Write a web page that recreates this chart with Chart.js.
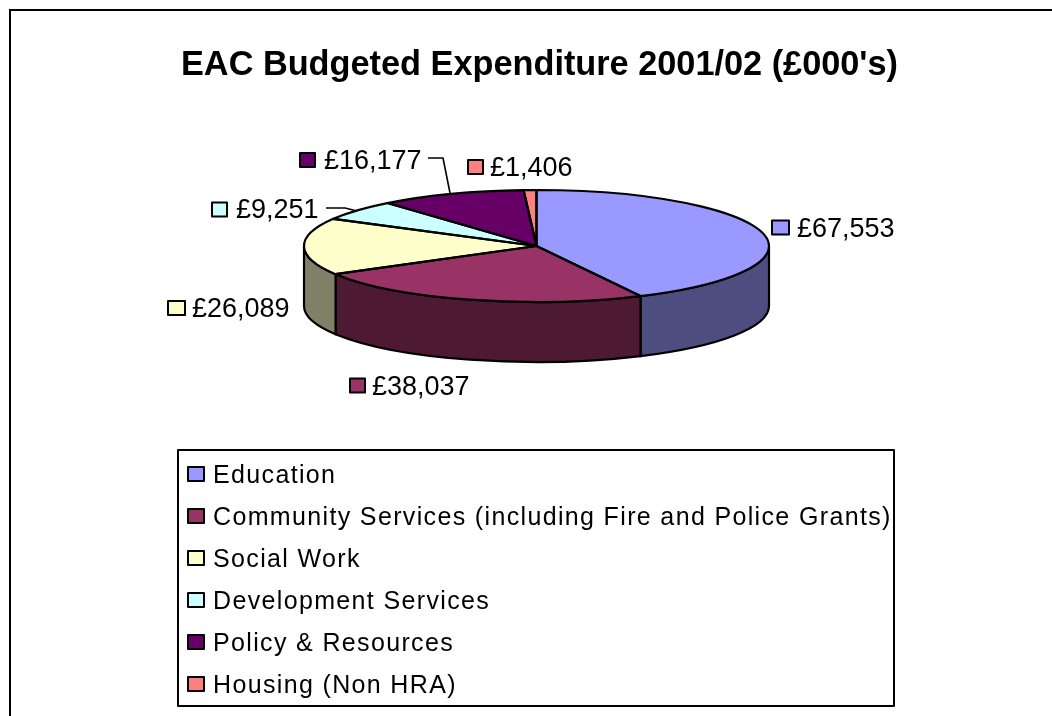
<!DOCTYPE html>
<html>
<head>
<meta charset="utf-8">
<title>EAC Budgeted Expenditure</title>
<script src="https://cdn.jsdelivr.net/npm/chart.js@4"></script>
<style>
  html, body { margin: 0; padding: 0; background: #fff; overflow: hidden; }
  canvas { display: block; }
</style>
</head>
<body>
<canvas id="budgetChart" width="1052" height="716"></canvas>
<script>
const categories = ['Education', 'Community Services (including Fire and Police Grants)', 'Social Work', 'Development Services', 'Policy & Resources', 'Housing (Non HRA)'];
const values = [67553, 38037, 26089, 9251, 16177, 1406];
const topColours = ['#9999FF', '#993366', '#FFFFCC', '#CCFFFF', '#660066', '#FF8080'];
const wallColours = ['#4D4D80', '#4D1933', '#808066', '#668080', '#330033', '#804040'];

// where the pie sits on the page (squashed circle + depth)
const cx = 536.5, cy = 246, rx = 232.5, ry = 56, depth = 60;

// [marker left, marker width, marker centre y, text left, text centre y] for each slice
const labelSpots = [[772, 17, 227.5, 797, 230], [350, 15, 385.5, 372, 388], [168, 17, 308, 192, 310], [212, 15, 209.5, 236, 211], [300, 15, 160, 324, 162], [468, 15, 167, 490, 169]];
const leaders = [null, null, null, [[326, 208], [345, 208], [357, 211]], [[428, 158], [443, 158], [450, 193]], null];

const legendBox = {left: 178, top: 450, right: 894, bottom: 706};
const legendFirstY = 474, legendStep = 42;

function drawMarker(ctx, x, yMid, w, h, colour) {
    ctx.fillStyle = colour;
    ctx.strokeStyle = '#000';
    ctx.lineWidth = 2;
    ctx.fillRect(x, yMid - h / 2, w, h);
    ctx.strokeRect(x, yMid - h / 2, w, h);
}

const pie3d = {
    id: 'pie3d',
    beforeDatasetsDraw(chart) {
        const ctx = chart.ctx;
        const arcs = chart.getDatasetMeta(0).data;

        ctx.save();
        // outer frame, only top and left show in the shot
        ctx.strokeStyle = '#000';
        ctx.lineWidth = 2;
        ctx.beginPath();
        ctx.moveTo(10, 716);
        ctx.lineTo(10, 10);
        ctx.lineTo(1052, 10);
        ctx.stroke();

        // side walls, only the front half of the rim
        arcs.forEach((arc, i) => {
            const a = Math.max(arc.startAngle, 0);
            const b = Math.min(arc.endAngle, Math.PI);
            if (b <= a) return;
            ctx.beginPath();
            ctx.ellipse(cx, cy, rx, ry, 0, a, b);
            ctx.ellipse(cx, cy + depth, rx, ry, 0, b, a, true);
            ctx.closePath();
            ctx.fillStyle = wallColours[i];
            ctx.fill();
            ctx.lineWidth = 2.2;
            ctx.strokeStyle = '#000';
            ctx.stroke();
        });
        ctx.restore();
    },
    beforeDatasetDraw(chart) {
        const ctx = chart.ctx;
        const arc = chart.getDatasetMeta(0).data[0];
        ctx.save();
        ctx.translate(cx, cy);
        ctx.scale(1, ry / rx);
        ctx.translate(-arc.x, -arc.y);
    },
    afterDatasetDraw(chart) {
        chart.ctx.restore();
    },
    afterDatasetsDraw(chart) {
        const ctx = chart.ctx;
        const arcs = chart.getDatasetMeta(0).data;

        ctx.save();
        ctx.lineJoin = 'round';
        arcs.forEach(arc => {
            ctx.beginPath();
            ctx.moveTo(cx, cy);
            ctx.ellipse(cx, cy, rx, ry, 0, arc.startAngle, arc.endAngle);
            ctx.closePath();
            ctx.lineWidth = 2.2;
            ctx.strokeStyle = '#000';
            ctx.stroke();
        });

        // value labels
        ctx.textBaseline = 'middle';
        ctx.textAlign = 'left';
        values.forEach((v, i) => {
            const spot = labelSpots[i];
            drawMarker(ctx, spot[0], spot[2], spot[1], 14, topColours[i]);
            ctx.fillStyle = '#000';
            ctx.font = '27px "Liberation Sans"';
            ctx.fillText('£' + v.toLocaleString('en-GB'), spot[3], spot[4]);
            if (leaders[i]) {
                ctx.beginPath();
                leaders[i].forEach((p, k) => k ? ctx.lineTo(p[0], p[1]) : ctx.moveTo(p[0], p[1]));
                ctx.lineWidth = 1.6;
                ctx.strokeStyle = '#000';
                ctx.stroke();
            }
        });

        // legend
        ctx.lineWidth = 2;
        ctx.strokeStyle = '#000';
        ctx.strokeRect(legendBox.left, legendBox.top, legendBox.right - legendBox.left, legendBox.bottom - legendBox.top);
        categories.forEach((name, i) => {
            const y = legendFirstY + i * legendStep;
            drawMarker(ctx, 188, y, 16, 14, topColours[i]);
            ctx.fillStyle = '#000';
            ctx.font = '25px "Liberation Sans"';
            ctx.letterSpacing = '1.35px';
            ctx.fillText(name, 213, y + 2);
            ctx.letterSpacing = '0px';
        });
        ctx.restore();
    }
};

new Chart(document.getElementById('budgetChart'), {
    type: 'pie',
    data: {
        labels: categories,
        datasets: [{
            data: values,
            backgroundColor: topColours,
            borderWidth: 0,
            radius: rx,
            clip: false
        }]
    },
    options: {
        responsive: false,
        animation: false,
        layout: {padding: {left: 181, right: 154, top: 45, bottom: 0}},
        plugins: {
            legend: {display: false},
            tooltip: {enabled: false},
            title: {
                display: true,
                text: "EAC Budgeted Expenditure 2001/02 (£000's)",
                color: '#000',
                font: {family: '"Liberation Sans"', size: 34.4, weight: 'bold'},
                padding: 0
            }
        }
    },
    plugins: [pie3d]
});
</script>
</body>
</html>
